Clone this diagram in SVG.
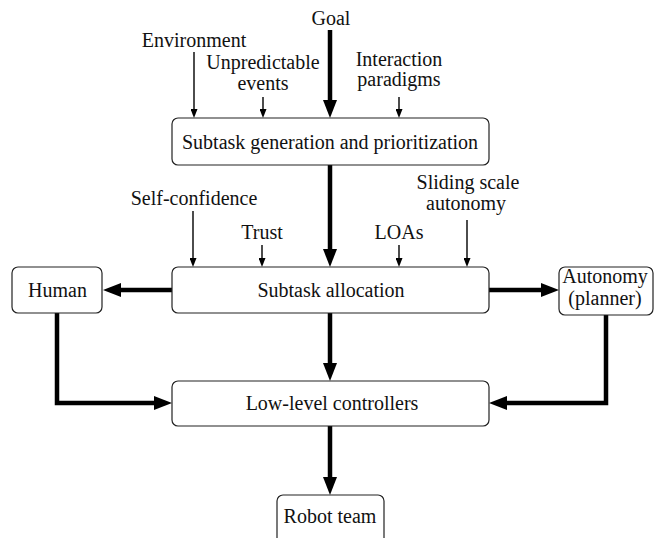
<svg xmlns="http://www.w3.org/2000/svg" width="665" height="538" viewBox="0 0 665 538">
<style>
  .box { fill: #fff; stroke: #222; stroke-width: 1.2; }
  .thin { fill: none; stroke: #000; stroke-width: 1.4; marker-end: url(#ah-thin); }
  .thick { fill: none; stroke: #000; stroke-width: 4.5; marker-end: url(#ah-thick); }
</style>
<defs>
  <marker id="ah-thick" markerUnits="userSpaceOnUse" markerWidth="18" markerHeight="14" viewBox="0 0 18 14" refX="0" refY="7" orient="auto">
    <path d="M0,0 L18,7 L0,14 Z" fill="#000"/>
  </marker>
  <marker id="ah-thin" markerUnits="userSpaceOnUse" markerWidth="9" markerHeight="7" viewBox="0 0 9 7" refX="0" refY="3.5" orient="auto">
    <path d="M0,0 L9,3.5 L0,7 Z" fill="#000"/>
  </marker>
</defs>

<g id="labels" font-size="20" fill="#111" text-anchor="middle">
  <text font-family="Liberation Serif" x="331" y="25">Goal</text>
  <text font-family="Liberation Serif" x="194" y="47">Environment</text>
  <text font-family="Liberation Serif" x="263" y="69">Unpredictable</text>
  <text font-family="Liberation Serif" x="263" y="90">events</text>
  <text font-family="Liberation Serif" x="399" y="66">Interaction</text>
  <text font-family="Liberation Serif" x="399" y="86">paradigms</text>
  <text font-family="Liberation Serif" x="194" y="205">Self-confidence</text>
  <text font-family="Liberation Serif" x="262" y="239">Trust</text>
  <text font-family="Liberation Serif" x="399" y="239">LOAs</text>
  <text font-family="Liberation Serif" x="468" y="189">Sliding scale</text>
  <text font-family="Liberation Serif" x="466" y="210">autonomy</text>
</g>

<g id="connectors">
  <line class="thin" x1="194" y1="52" x2="194" y2="109"/>
  <line class="thin" x1="263" y1="97" x2="263" y2="109"/>
  <line class="thin" x1="399" y1="97" x2="399" y2="109"/>
  <line class="thick" x1="330" y1="30" x2="330" y2="100"/>
  <line class="thick" x1="330" y1="165" x2="330" y2="249"/>
  <line class="thin" x1="193" y1="211" x2="193" y2="258"/>
  <line class="thin" x1="262" y1="245" x2="262" y2="258"/>
  <line class="thin" x1="399" y1="245" x2="399" y2="258"/>
  <line class="thin" x1="467" y1="220" x2="467" y2="258"/>
  <line class="thick" x1="172" y1="290" x2="121" y2="290"/>
  <line class="thick" x1="489" y1="290" x2="541" y2="290"/>
  <line class="thick" x1="330" y1="313" x2="330" y2="363"/>
  <polyline class="thick" points="57,313 57,403 154,403"/>
  <polyline class="thick" points="606,315 606,403 507,403"/>
  <line class="thick" x1="330" y1="426" x2="330" y2="477"/>
</g>

<g font-size="20" fill="#111" text-anchor="middle">
<g id="gen">
  <rect class="box" x="172" y="118" width="317" height="47" rx="6"/>
  <text font-family="Liberation Serif" x="330" y="149">Subtask generation and prioritization</text>
</g>
<g id="alloc">
  <rect class="box" x="172" y="267" width="317" height="46" rx="6"/>
  <text font-family="Liberation Serif" x="331" y="297">Subtask allocation</text>
</g>
<g id="human">
  <rect class="box" x="12" y="267" width="90" height="46" rx="6"/>
  <text font-family="Liberation Serif" x="57.5" y="297">Human</text>
</g>
<g id="autonomy">
  <rect class="box" x="559" y="267" width="94" height="48" rx="6"/>
  <text font-family="Liberation Serif" x="605" y="283">Autonomy</text>
  <text font-family="Liberation Serif" x="605" y="305">(planner)</text>
</g>
<g id="lowlevel">
  <rect class="box" x="172" y="381" width="317" height="45" rx="6"/>
  <text font-family="Liberation Serif" x="332" y="410">Low-level controllers</text>
</g>
<g id="robot">
  <rect class="box" x="277" y="495" width="107" height="50" rx="6"/>
  <text font-family="Liberation Serif" x="330" y="523">Robot team</text>
</g>
</g>
</svg>
